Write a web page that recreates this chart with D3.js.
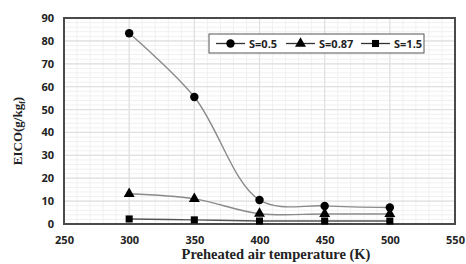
<!DOCTYPE html>
<html><head><meta charset="utf-8">
<script src="https://cdn.jsdelivr.net/npm/d3@7"></script>
<style>body{margin:0;background:#fff}</style>
</head><body>
<svg id="c" width="466" height="264"></svg>
<script>
const temps = [300, 350, 400, 450, 500];
const s05 = [83.3, 55.5, 10.5, 7.9, 7.2];
const s087 = [13.2, 11.0, 4.5, 4.4, 4.4];
const s15 = [2.2, 1.8, 1.3, 1.3, 1.3];
const seriesNames = ["S=0.5", "S=0.87", "S=1.5"];
const xTicks = [250, 300, 350, 400, 450, 500, 550];
const yTicks = [0, 10, 20, 30, 40, 50, 60, 70, 80, 90];

const svg = d3.select("#c");
const L = 64, R = 455, T = 18, B = 224;
const x = d3.scaleLinear().domain([250, 550]).range([L, R]);
const y = d3.scaleLinear().domain([0, 90]).range([B, T]);

// minor grid
const g = svg.append("g");
g.selectAll(".mx").data(d3.range(250, 551, 10)).enter().append("line")
  .attr("x1", d => x(d)).attr("x2", d => x(d)).attr("y1", T).attr("y2", B)
  .attr("stroke", "#f0f0f0").attr("stroke-width", 1);
g.selectAll(".my").data(d3.range(0, 91, 2)).enter().append("line")
  .attr("y1", d => y(d)).attr("y2", d => y(d)).attr("x1", L).attr("x2", R)
  .attr("stroke", "#f0f0f0").attr("stroke-width", 1);
// major grid
g.selectAll(".Mx").data(xTicks).enter().append("line")
  .attr("x1", d => x(d)).attr("x2", d => x(d)).attr("y1", T).attr("y2", B)
  .attr("stroke", "#e0e0e0").attr("stroke-width", 1.2);
g.selectAll(".My").data(yTicks).enter().append("line")
  .attr("y1", d => y(d)).attr("y2", d => y(d)).attr("x1", L).attr("x2", R)
  .attr("stroke", "#e0e0e0").attr("stroke-width", 1.2);

// axes (labels only)
const xa = svg.append("g").attr("transform", `translate(0,${B})`)
  .call(d3.axisBottom(x).tickValues(xTicks).tickSize(0).tickPadding(12));
xa.select(".domain").remove();
xa.selectAll("text").attr("font-family", "'Open Sans', sans-serif").attr("font-weight", "bold")
  .attr("font-size", 11).attr("fill", "#222");
const ya = svg.append("g").attr("transform", `translate(${L},0)`)
  .call(d3.axisLeft(y).tickValues(yTicks).tickSize(0).tickPadding(10));
ya.select(".domain").remove();
ya.selectAll("text").attr("font-family", "'Open Sans', sans-serif").attr("font-weight", "bold")
  .attr("font-size", 11).attr("fill", "#222");

// border
svg.append("rect").attr("x", L).attr("y", T).attr("width", R - L).attr("height", B - T)
  .attr("fill", "none").attr("stroke", "#4a4a4a").attr("stroke-width", 2);

const data = [s05, s087, s15];
const line = d3.line().x((d, i) => x(temps[i])).y(d => y(d)).curve(d3.curveCatmullRom.alpha(0.5));
const colors = ["#8a8a8a", "#8a8a8a", "#555"];
data.forEach((s, k) => {
  svg.append("path").attr("d", line(s)).attr("fill", "none")
    .attr("stroke", colors[k]).attr("stroke-width", 1.4);
});
const sym = [d3.symbolCircle, d3.symbolTriangle, d3.symbolSquare];
const symSize = [56, 52, 50];
[2, 1, 0].forEach(k => {
  svg.append("g").selectAll("path").data(data[k]).enter().append("path")
    .attr("d", d3.symbol().type(sym[k]).size(symSize[k]))
    .attr("transform", (d, i) => `translate(${x(temps[i])},${y(d)})`)
    .attr("fill", "#000");
});

// legend
svg.append("rect").attr("x", 209).attr("y", 34).attr("width", 215).attr("height", 19)
  .attr("fill", "#fff").attr("stroke", "#555").attr("stroke-width", 1);
const lx = [216, 286, 361];
seriesNames.forEach((n, k) => {
  const gg = svg.append("g").attr("transform", `translate(${lx[k]},43.5)`);
  gg.append("line").attr("x1", 0).attr("x2", 29).attr("stroke", "#333").attr("stroke-width", 1.3);
  gg.append("path").attr("d", d3.symbol().type(sym[k]).size(symSize[k])).attr("transform", "translate(14.5,0)").attr("fill", "#000");
  gg.append("text").attr("x", 33).attr("y", 4).text(n)
    .attr("font-family", "'Open Sans', sans-serif").attr("font-weight", "bold").attr("font-size", 11).attr("fill", "#222");
});

// axis titles
svg.append("text").attr("x", 276).attr("y", 259).attr("text-anchor", "middle")
  .attr("font-family", "'Liberation Serif', serif").attr("font-weight", "bold").attr("font-size", 14.5)
  .attr("fill", "#222").text("Preheated air temperature (K)");
const yt = svg.append("text").attr("transform", "translate(22,131) rotate(-90)").attr("text-anchor", "middle")
  .attr("font-family", "'Liberation Serif', serif").attr("font-weight", "bold").attr("font-size", 13).attr("fill", "#222");
yt.append("tspan").text("EICO(g/kg");
yt.append("tspan").attr("font-size", 8).attr("dy", 3).text("f");
yt.append("tspan").attr("dy", -3).text(")");
</script>
</body></html>
